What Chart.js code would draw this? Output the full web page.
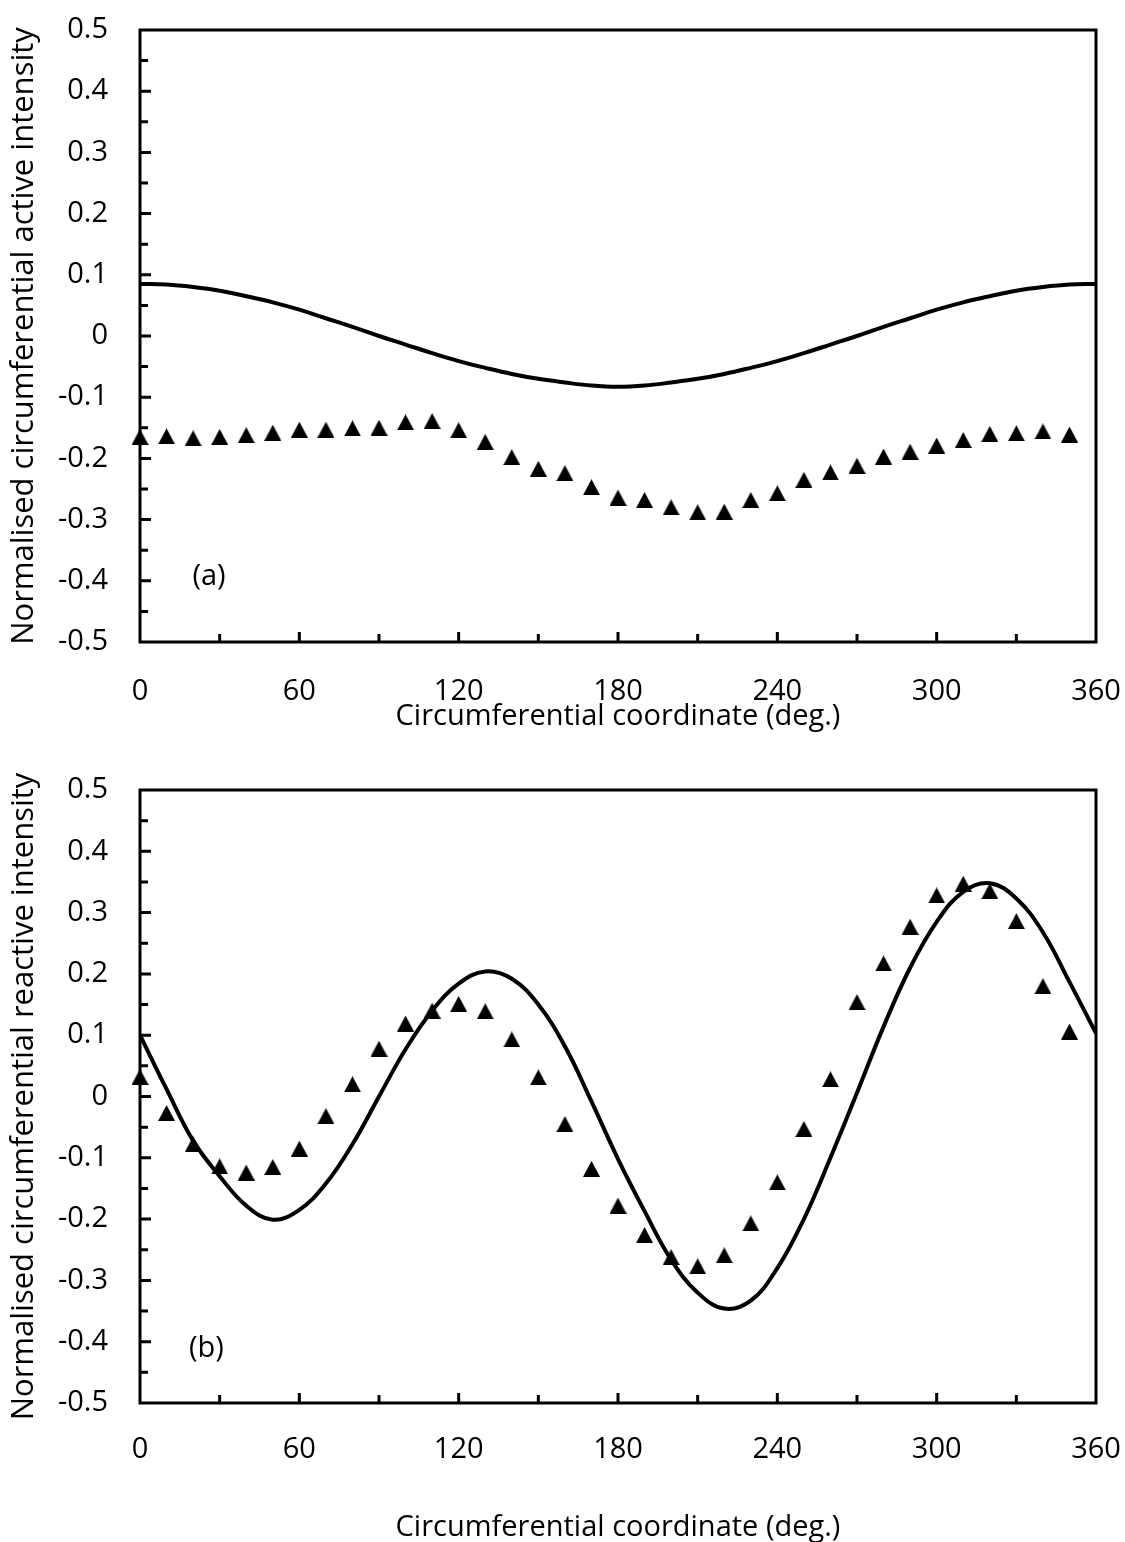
<!DOCTYPE html>
<html>
<head>
<meta charset="utf-8">
<title>Circumferential intensity</title>
<script src="https://cdn.jsdelivr.net/npm/chart.js@4.4.1/dist/chart.umd.min.js"></script>
<style>
  html, body { margin: 0; padding: 0; background: #fff; }
  .panel { position: relative; width: 1125px; }
  #panel-a { height: 745px; }
  #panel-b { height: 797px; }
  canvas { display: block; }
</style>
</head>
<body>
<div class="panel" id="panel-a"><canvas id="chart-a" width="1125" height="745"></canvas></div>
<div class="panel" id="panel-b"><canvas id="chart-b" width="1125" height="797"></canvas></div>
<script>
// Measurement positions (deg.)
const angles = [0, 10, 20, 30, 40, 50, 60, 70, 80, 90, 100, 110, 120, 130, 140, 150, 160, 170,
  180, 190, 200, 210, 220, 230, 240, 250, 260, 270, 280, 290, 300, 310, 320, 330, 340, 350];

// (a) active intensity, measured
const activeMeasured = [-0.165, -0.164, -0.167, -0.165, -0.162, -0.158, -0.153, -0.153, -0.151, -0.150,
  -0.141, -0.139, -0.154, -0.173, -0.198, -0.217, -0.224, -0.247, -0.264, -0.268, -0.280, -0.288,
  -0.287, -0.268, -0.257, -0.235, -0.223, -0.212, -0.197, -0.189, -0.179, -0.170, -0.160, -0.159,
  -0.156, -0.161];

// Predicted curves are sampled every 10 deg. over the full circle
const curveAngles = [0, 10, 20, 30, 40, 50, 60, 70, 80, 90, 100, 110, 120, 130, 140, 150, 160, 170,
  180, 190, 200, 210, 220, 230, 240, 250, 260, 270, 280, 290, 300, 310, 320, 330, 340, 350, 360];

// (a) active intensity, predicted
const activeCurve = [0.085, 0.084, 0.080, 0.074, 0.065, 0.055, 0.043, 0.029, 0.015, 0.000, -0.014,
  -0.028, -0.041, -0.052, -0.062, -0.070, -0.076, -0.081, -0.083, -0.081, -0.076, -0.070, -0.062,
  -0.052, -0.041, -0.028, -0.014, 0.000, 0.015, 0.029, 0.043, 0.055, 0.065, 0.074, 0.080, 0.084, 0.085];

// (b) reactive intensity, measured
const reactiveMeasured = [0.032, -0.027, -0.078, -0.114, -0.124, -0.115, -0.085, -0.032, 0.020, 0.078,
  0.119, 0.140, 0.151, 0.139, 0.093, 0.031, -0.045, -0.118, -0.178, -0.226, -0.262, -0.277, -0.259,
  -0.207, -0.140, -0.053, 0.028, 0.154, 0.217, 0.277, 0.328, 0.347, 0.335, 0.286, 0.180, 0.106];

// (b) reactive intensity, predicted
const reactiveCurve = [0.100, 0.012, -0.072, -0.130, -0.178, -0.201, -0.185, -0.142, -0.078, 0.000,
  0.077, 0.140, 0.184, 0.204, 0.192, 0.150, 0.082, -0.008, -0.102, -0.187, -0.266, -0.320, -0.346,
  -0.333, -0.280, -0.200, -0.100, 0.006, 0.114, 0.210, 0.285, 0.334, 0.348, 0.323, 0.268, 0.187, 0.103];

// Labelled tick values
const xLabelValues = [0, 60, 120, 180, 240, 300, 360];
const yLabelValues = [-0.5, -0.4, -0.3, -0.2, -0.1, 0, 0.1, 0.2, 0.3, 0.4, 0.5];

Chart.defaults.font.family = '"Open Sans", sans-serif';
Chart.defaults.font.size = 29;
Chart.defaults.color = '#000';

// Solid triangle marker, same look as the spreadsheet markers
function triangleMarker(w, h) {
  const c = document.createElement('canvas');
  c.width = w;
  c.height = h;
  const g = c.getContext('2d');
  g.fillStyle = '#000';
  g.beginPath();
  g.moveTo(w / 2, 0);
  g.lineTo(w, h);
  g.lineTo(0, h);
  g.closePath();
  g.fill();
  return c;
}
const marker = triangleMarker(17, 16);

// Closed frame, inward tick marks and the panel tag
const frameTicks = {
  id: 'frameTicks',
  afterDatasetsDraw(chart, args, opts) {
    const { ctx, chartArea: a, scales: { x, y } } = chart;
    ctx.save();
    ctx.strokeStyle = '#000';
    ctx.lineWidth = 3;
    ctx.beginPath();
    x.ticks.forEach((t) => {
      const px = x.getPixelForValue(t.value);
      if (px <= a.left + 1 || px >= a.right - 1) return;
      ctx.moveTo(px, a.bottom);
      ctx.lineTo(px, a.bottom - (t.label ? 10 : 8));
    });
    y.ticks.forEach((t) => {
      const py = y.getPixelForValue(t.value);
      if (py <= a.top + 1 || py >= a.bottom - 1) return;
      ctx.moveTo(a.left, py);
      ctx.lineTo(a.left + (t.label ? 11 : 8), py);
    });
    ctx.stroke();
    ctx.strokeRect(a.left, a.top, a.right - a.left, a.bottom - a.top);

    ctx.fillStyle = '#000';
    ctx.font = '29px "Open Sans", sans-serif';
    ctx.textAlign = 'center';
    ctx.textBaseline = 'middle';
    ctx.fillText(opts.tag, x.getPixelForValue(opts.tagX), y.getPixelForValue(opts.tagY));
    ctx.restore();
  }
};

function toPoints(xs, ys) {
  return xs.map((v, i) => ({ x: v, y: ys[i] }));
}

// fixed axis size, and no extra room reserved for end labels
function fixSize(prop, size) {
  return (scale) => {
    scale[prop] = size;
    scale.paddingTop = 0;
    scale.paddingBottom = 0;
    scale.paddingLeft = 0;
    scale.paddingRight = 0;
  };
}

function makeChart(id, setup) {
  return new Chart(document.getElementById(id), {
    type: 'scatter',
    data: {
      datasets: [
        {
          label: 'Measured',
          data: toPoints(angles, setup.measured),
          pointStyle: marker,
          pointRadius: 8,
          showLine: false,
          clip: false,
        },
        {
          label: 'Predicted',
          data: toPoints(curveAngles, setup.curve),
          showLine: true,
          borderColor: '#000',
          borderWidth: 4,
          pointRadius: 0,
          tension: 0.4,
        },
      ],
    },
    options: {
      responsive: false,
      animation: false,
      layout: { padding: { top: setup.top, right: 29, bottom: 0, left: 0 } },
      plugins: {
        legend: { display: false },
        tooltip: { enabled: false },
        frameTicks: { tag: setup.tag, tagX: setup.tagX, tagY: setup.tagY },
      },
      scales: {
        x: {
          type: 'linear',
          min: 0,
          max: 360,
          grid: { display: false, drawTicks: false },
          border: { display: false },
          ticks: {
            stepSize: 30,
            autoSkip: false,
            maxRotation: 0,
            padding: setup.xTickPad,
            callback: (v) => (xLabelValues.includes(v) ? String(v) : ''),
          },
          title: {
            display: true,
            text: 'Circumferential coordinate (deg.)',
            padding: { top: 0, bottom: setup.xTitlePad },
          },
          afterFit: fixSize('height', setup.xHeight),
        },
        y: {
          min: -0.5,
          max: 0.5,
          grid: { display: false, drawTicks: false },
          border: { display: false },
          ticks: {
            stepSize: 0.05,
            autoSkip: false,
            padding: 32,
            callback: (v) => {
              const m = yLabelValues.find((l) => Math.abs(l - v) < 1e-6);
              return m === undefined ? '' : String(m);
            },
          },
          title: {
            display: true,
            text: setup.yTitle,
            font: { size: 31 },
            padding: { top: 6, bottom: 0 },
          },
          afterFit: fixSize('width', 140),
        },
      },
    },
    plugins: [frameTicks],
  });
}

makeChart('chart-a', {
  measured: activeMeasured,
  curve: activeCurve,
  yTitle: 'Normalised circumferential active intensity',
  tag: '(a)', tagX: 26, tagY: -0.393,
  top: 30, xHeight: 103, xTickPad: 32, xTitlePad: 11,
});

makeChart('chart-b', {
  measured: reactiveMeasured,
  curve: reactiveCurve,
  yTitle: 'Normalised circumferential reactive intensity',
  tag: '(b)', tagX: 25, tagY: -0.411,
  top: 45, xHeight: 139, xTickPad: 29, xTitlePad: -3,
});
</script>
</body>
</html>
